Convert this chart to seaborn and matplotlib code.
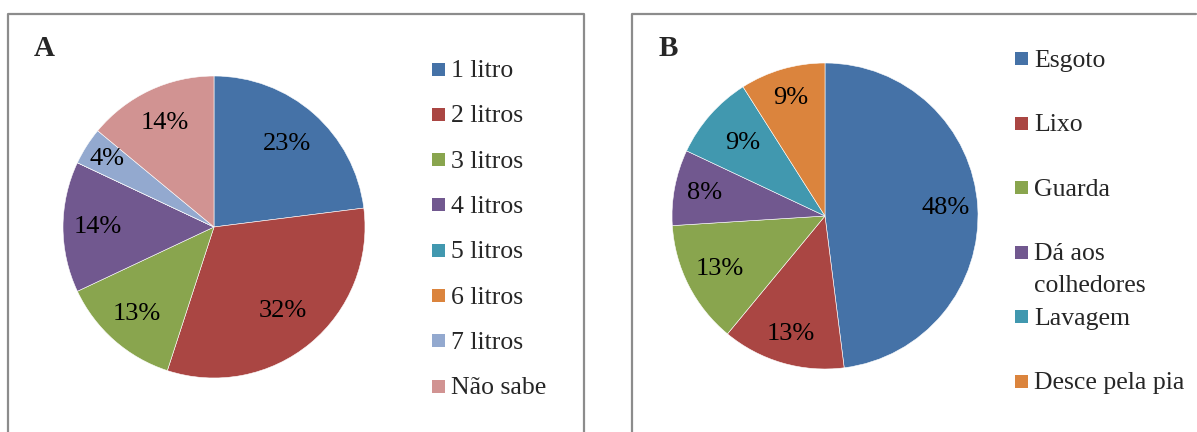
import matplotlib
matplotlib.use("Agg")
import matplotlib.pyplot as plt
import seaborn as sns
import numpy as np
from matplotlib.patches import Rectangle
from matplotlib.lines import Line2D

sns.set_theme(style="white")
plt.rcParams['font.family'] = ['Liberation Serif', 'DejaVu Serif']

# ---- data ----
labels_a = ["1 litro", "2 litros", "3 litros", "4 litros", "5 litros", "6 litros", "7 litros", "Não sabe"]
values_a = [23, 32, 13, 14, 0, 0, 4, 14]
labels_b = ["Esgoto", "Lixo", "Guarda", "Dá aos\ncolhedores", "Lavagem", "Desce pela pia"]
values_b = [48, 13, 13, 8, 9, 9]

colors_a = ["#4572A7", "#AA4643", "#89A54E", "#71588F", "#4198AF", "#DB843D", "#93A9CF", "#D19392"]
colors_b = ["#4572A7", "#AA4643", "#89A54E", "#71588F", "#4198AF", "#DB843D"]

W, H = 1197, 432
fig = plt.figure(figsize=(W / 100, H / 100), dpi=100)
fig.patch.set_facecolor("white")

FS_PCT = 19
FS_LEG = 18.5


def px_axes(cx, cy, r):
    return fig.add_axes([(cx - r) / W, (H - cy - r) / H, 2 * r / W, 2 * r / H])


def draw_pie(ax, values, colors, dists):
    wedges, _ = ax.pie(values, colors=colors, startangle=90, counterclock=False,
                       wedgeprops=dict(edgecolor="white", linewidth=0.4))
    total = sum(values)
    for w, v, d in zip(wedges, values, dists):
        if v <= 0:
            continue
        ang = np.deg2rad((w.theta1 + w.theta2) / 2)
        ax.text(d * np.cos(ang), d * np.sin(ang), f"{100 * v / total:.0f}%",
                ha="center", va="center", fontsize=FS_PCT, color="black")
    ax.set_xlim(-1, 1)
    ax.set_ylim(-1, 1)
    ax.set_aspect("equal")
    ax.axis("off")


def draw_legend(x0, y0, dy, labels, colors, sq=13):
    for i, (lab, col) in enumerate(zip(labels, colors)):
        y = y0 + i * dy
        fig.patches.append(Rectangle((x0 / W, (H - y - sq / 2) / H), sq / W, sq / H,
                                     transform=fig.transFigure, facecolor=col,
                                     edgecolor="none", figure=fig))
        for j, line in enumerate(lab.split("\n")):
            fig.text((x0 + sq + 6) / W, (H - y - 8 - 32 * j) / H, line,
                     ha="left", va="baseline", fontsize=FS_LEG)


# panel borders
for (x0, x1, closed) in [(7.5, 583.5, True), (632, 1196, False)]:
    ys = [-0.1, (H - 14) / H, (H - 14) / H, -0.1 if closed else (H - 14) / H]
    fig.lines.append(Line2D([x0 / W, x0 / W, x1 / W, x1 / W], ys,
                            transform=fig.transFigure, color="#8c8c8c",
                            linewidth=1.6, figure=fig))

# Panel A
axA = px_axes(214, 227, 151)
draw_pie(axA, values_a, colors_a, [0.73, 0.72, 0.77, 0.77, 0.75, 0.75, 0.84, 0.76])
fig.text(34 / W, (H - 48) / H, "A", fontsize=21, fontweight="bold", ha="left", va="center")
draw_legend(432, 69, 45.3, labels_a, colors_a)

# Panel B
axB = px_axes(825, 216, 153)
draw_pie(axB, values_b, colors_b, [0.79, 0.80, 0.77, 0.80, 0.72, 0.80])
fig.text(659 / W, (H - 48) / H, "B", fontsize=21, fontweight="bold", ha="left", va="center")
draw_legend(1015, 58.5, 64.5, labels_b, colors_b)

fig.savefig("out.png", dpi=100, facecolor="white")
